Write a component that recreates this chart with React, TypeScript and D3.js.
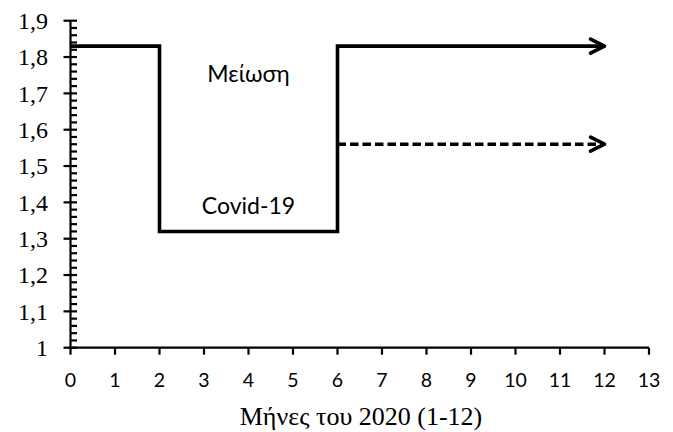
import React, { useEffect, useRef } from "react";
import * as d3 from "d3";

// month breakpoints and level of the solid step line
const stepMonths = [0, 2, 6, 12];
const stepValues = [1.83, 1.32, 1.83, 1.83];
// dashed continuation
const dashMonths = [6, 12];
const dashValues = [1.56, 1.56];

const xTicks = d3.range(0, 14);
const yTicks = [1, 1.1, 1.2, 1.3, 1.4, 1.5, 1.6, 1.7, 1.8, 1.9];
const yTickLabels = ["1", "1,1", "1,2", "1,3", "1,4", "1,5", "1,6", "1,7", "1,8", "1,9"];
// minor ticks every 0.02
const yMinorTicks = d3.range(0, 46).filter((i) => i % 5 !== 0).map((i) => 1 + i * 0.02);

const labels = [
  { text: "Μείωση", month: 4, value: 1.73 },
  { text: "Covid-19", month: 4, value: 1.368 },
];
const xTitle = "Μήνες του 2020 (1-12)";

export default function App() {
  const ref = useRef<SVGSVGElement>(null);

  useEffect(() => {
    const svg = d3.select(ref.current);
    svg.selectAll("*").remove();

    const x = d3.scaleLinear().domain([0, 13]).range([70.5, 649]);
    const y = d3.scaleLinear().domain([1, 1.9]).range([347.7, 20.7]);

    const g = svg.append("g");

    // y axis
    g.append("line")
      .attr("x1", x(0)).attr("x2", x(0))
      .attr("y1", y(1)).attr("y2", y(1.9))
      .attr("stroke", "#000").attr("stroke-width", 2.2);

    g.selectAll("line.minor")
      .data(yMinorTicks)
      .join("line")
      .attr("class", "minor")
      .attr("x1", x(0)).attr("x2", x(0) + 6.5)
      .attr("y1", (d) => y(d)).attr("y2", (d) => y(d))
      .attr("stroke", "#000").attr("stroke-width", 2.2);

    g.selectAll("line.major")
      .data(yTicks)
      .join("line")
      .attr("class", "major")
      .attr("x1", x(0) - 7).attr("x2", x(0) + 6.5)
      .attr("y1", (d) => y(d)).attr("y2", (d) => y(d))
      .attr("stroke", "#000").attr("stroke-width", 2.2);

    g.selectAll("text.ylab")
      .data(yTicks)
      .join("text")
      .attr("class", "ylab")
      .attr("x", 48)
      .attr("y", (d) => y(d))
      .attr("dy", "0.34em")
      .attr("text-anchor", "end")
      .attr("font-family", "'Liberation Serif', 'Times New Roman', serif")
      .attr("font-size", 24)
      .text((_, i) => yTickLabels[i]);

    // x axis
    g.append("line")
      .attr("x1", x(0) - 1).attr("x2", x(13))
      .attr("y1", y(1)).attr("y2", y(1))
      .attr("stroke", "#000").attr("stroke-width", 2.2);

    g.selectAll("line.xtick")
      .data(xTicks)
      .join("line")
      .attr("class", "xtick")
      .attr("x1", (d) => x(d)).attr("x2", (d) => x(d))
      .attr("y1", y(1)).attr("y2", y(1) + 7)
      .attr("stroke", "#000").attr("stroke-width", 2.2);

    g.selectAll("text.xlab")
      .data(xTicks)
      .join("text")
      .attr("class", "xlab")
      .attr("x", (d) => x(d))
      .attr("y", 387)
      .attr("text-anchor", "middle")
      .attr("font-family", "Lato, 'Open Sans', sans-serif")
      .attr("font-size", 19.5)
      .text((d) => String(d));

    g.append("text")
      .attr("x", 361)
      .attr("y", 425)
      .attr("text-anchor", "middle")
      .attr("font-family", "'Liberation Serif', 'Times New Roman', serif")
      .attr("font-size", 26)
      .text(xTitle);

    // lines
    const stepLine = d3
      .line<[number, number]>()
      .x((d) => x(d[0]))
      .y((d) => y(d[1]))
      .curve(d3.curveStepAfter);

    const stepPts = stepMonths.map((m, i) => [m, stepValues[i]] as [number, number]);
    g.append("path")
      .attr("d", stepLine(stepPts))
      .attr("fill", "none")
      .attr("stroke", "#000")
      .attr("stroke-width", 3.6)
      .attr("stroke-linejoin", "miter");

    const dashPts = dashMonths.map((m, i) => [m, dashValues[i]] as [number, number]);
    g.append("path")
      .attr("d", stepLine(dashPts))
      .attr("fill", "none")
      .attr("stroke", "#000")
      .attr("stroke-width", 3.6)
      .attr("stroke-dasharray", "8.5,4");

    // arrowheads at line ends
    const ends = [
      [stepMonths[stepMonths.length - 1], stepValues[stepValues.length - 1]],
      [dashMonths[dashMonths.length - 1], dashValues[dashValues.length - 1]],
    ];
    g.selectAll("path.arrow")
      .data(ends)
      .join("path")
      .attr("class", "arrow")
      .attr("d", (d) => {
        const tx = x(d[0]);
        const ty = y(d[1]);
        return `M${tx - 14},${ty - 7}L${tx},${ty}L${tx - 14},${ty + 7}`;
      })
      .attr("fill", "none")
      .attr("stroke", "#000")
      .attr("stroke-width", 3.6)
      .attr("stroke-linecap", "round")
      .attr("stroke-linejoin", "round");

    g.selectAll("text.lbl")
      .data(labels)
      .join("text")
      .attr("class", "lbl")
      .attr("x", (d) => x(d.month))
      .attr("y", (d) => y(d.value))
      .attr("text-anchor", "middle")
      .attr("font-family", "Lato, 'Open Sans', sans-serif")
      .attr("font-size", 23)
      .text((d) => d.text);
  }, []);

  return (
    <svg
      ref={ref}
      width={673}
      height={432}
      style={{ position: "absolute", left: 0, top: 0, background: "#fff" }}
    />
  );
}
